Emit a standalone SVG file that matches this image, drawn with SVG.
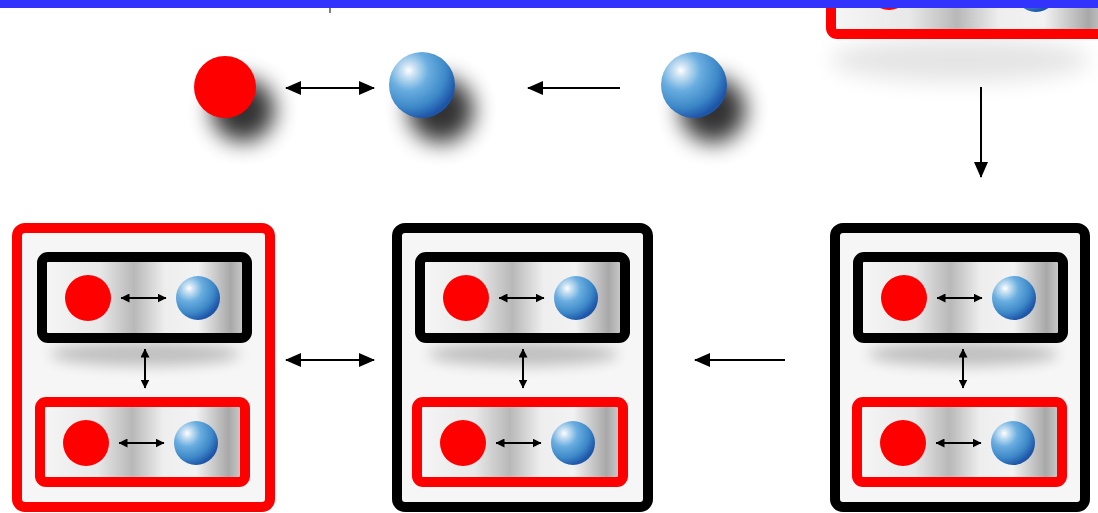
<svg xmlns="http://www.w3.org/2000/svg" xmlns:xlink="http://www.w3.org/1999/xlink" width="1098" height="513" viewBox="0 0 1098 513">
<style>
.red{fill:#ff0000}
.blue{fill:url(#ballG)}
.conn{stroke:#000;stroke-width:2;fill:none}
.small{stroke:#000;stroke-width:2;fill:none}
.boxR{stroke:#ff0000;stroke-width:10;fill:#f6f6f6}
.boxK{stroke:#000;stroke-width:10;fill:#f6f6f6}
.inR{stroke:#ff0000;stroke-width:10;fill:url(#inG)}
.inK{stroke:#000;stroke-width:10;fill:url(#inG)}
.shd{fill:#000;filter:url(#blur)}
</style>
<defs>
<radialGradient id="ballG" cx="0.3" cy="0.28" r="0.75">
<stop offset="0" stop-color="#ffffff"/>
<stop offset="0.12" stop-color="#cfe4f4"/>
<stop offset="0.4" stop-color="#6aaee0"/>
<stop offset="0.75" stop-color="#3d88c8"/>
<stop offset="1" stop-color="#1d55a8"/>
</radialGradient>
<linearGradient id="inG" x1="0" y1="0" x2="1" y2="0">
<stop offset="0" stop-color="#f6f6f6"/>
<stop offset="0.28" stop-color="#e8e8e8"/>
<stop offset="0.45" stop-color="#b8b8b8"/>
<stop offset="0.6" stop-color="#eeeeee"/>
<stop offset="0.76" stop-color="#f2f2f2"/>
<stop offset="0.92" stop-color="#a8a8a8"/>
<stop offset="1" stop-color="#d4d4d4"/>
</linearGradient>
<filter id="blur" x="-1" y="-1" width="3" height="3"><feGaussianBlur stdDeviation="11"/></filter>
<filter id="blur2" x="-1" y="-1" width="3" height="3"><feGaussianBlur stdDeviation="7"/></filter>
<marker id="ah" markerWidth="16" markerHeight="14" refX="15" refY="7" orient="auto-start-reverse" markerUnits="userSpaceOnUse"><path d="M0,0 L16,7 L0,14 Z" fill="#000"/></marker>
<marker id="as" markerWidth="9" markerHeight="9" refX="8.5" refY="4.5" orient="auto-start-reverse" markerUnits="userSpaceOnUse"><path d="M0,0 L9,4.5 L0,9 Z" fill="#000"/></marker>
<g id="pair">
<circle cx="46" cy="41" r="23" class="red"/>
<circle cx="156" cy="41" r="22" class="blue"/>
<line x1="79" y1="41" x2="124" y2="41" class="small" marker-start="url(#as)" marker-end="url(#as)"/>
</g>
</defs>
<rect width="1098" height="513" fill="#fff"/>

<g id="top-right-box">
<ellipse cx="960" cy="60" rx="130" ry="22" fill="#000" opacity="0.1" filter="url(#blur)"/>
<rect x="831" y="-20" width="280" height="54" rx="6" class="inR"/>
<circle cx="889" cy="-12" r="22" class="red"/>
<circle cx="1036" cy="-10" r="22" class="blue"/>
</g>

<g id="top-red">
<circle cx="243" cy="110" r="32" class="shd" opacity="0.8"/>
<circle cx="225" cy="87" r="31" class="red"/>
</g>
<g id="top-blue-1">
<circle cx="441" cy="110" r="33" class="shd" opacity="0.8"/>
<circle cx="422" cy="85" r="33" class="blue"/>
</g>
<g id="top-blue-2">
<circle cx="713" cy="110" r="33" class="shd" opacity="0.8"/>
<circle cx="694" cy="85" r="33" class="blue"/>
</g>

<g id="box-1">
<rect x="17" y="228" width="253" height="279" rx="8" class="boxR"/>
<ellipse cx="145" cy="354" rx="95" ry="12" fill="#000" opacity="0.22" filter="url(#blur2)"/>
<rect x="42" y="257" width="205" height="81" rx="6" class="inK"/>
<use xlink:href="#pair" x="42" y="257"/>
<rect x="40" y="402" width="205" height="80" rx="6" class="inR"/>
<use xlink:href="#pair" x="40" y="402"/>
<line x1="145" y1="349" x2="145" y2="388" class="small" marker-start="url(#as)" marker-end="url(#as)"/>
</g>

<g id="box-2">
<rect x="397" y="228" width="251" height="279" rx="8" class="boxK"/>
<ellipse cx="523" cy="354" rx="95" ry="12" fill="#000" opacity="0.22" filter="url(#blur2)"/>
<rect x="420" y="257" width="205" height="81" rx="6" class="inK"/>
<use xlink:href="#pair" x="420" y="257"/>
<rect x="417" y="402" width="206" height="80" rx="6" class="inR"/>
<use xlink:href="#pair" x="417" y="402"/>
<line x1="523" y1="349" x2="523" y2="388" class="small" marker-start="url(#as)" marker-end="url(#as)"/>
</g>

<g id="box-3">
<rect x="835" y="228" width="250" height="279" rx="8" class="boxK"/>
<ellipse cx="963" cy="354" rx="95" ry="12" fill="#000" opacity="0.22" filter="url(#blur2)"/>
<rect x="858" y="257" width="205" height="81" rx="6" class="inK"/>
<use xlink:href="#pair" x="858" y="257"/>
<rect x="857" y="402" width="205" height="80" rx="6" class="inR"/>
<use xlink:href="#pair" x="857" y="402"/>
<line x1="963" y1="349" x2="963" y2="388" class="small" marker-start="url(#as)" marker-end="url(#as)"/>
</g>

<g id="connectors">
<line x1="286" y1="88" x2="374" y2="88" class="conn" marker-start="url(#ah)" marker-end="url(#ah)"/>
<line x1="620" y1="88" x2="528" y2="88" class="conn" marker-end="url(#ah)"/>
<line x1="981" y1="87" x2="981" y2="177" class="conn" marker-end="url(#ah)"/>
<line x1="286" y1="360" x2="374" y2="360" class="conn" marker-start="url(#ah)" marker-end="url(#ah)"/>
<line x1="785" y1="360" x2="695" y2="360" class="conn" marker-end="url(#ah)"/>
</g>

<g id="header">
<rect x="0" y="0" width="1098" height="8" fill="#3333ff"/>
<line x1="330" y1="8" x2="330" y2="13" stroke="#000" stroke-width="1"/>
</g>
</svg>
